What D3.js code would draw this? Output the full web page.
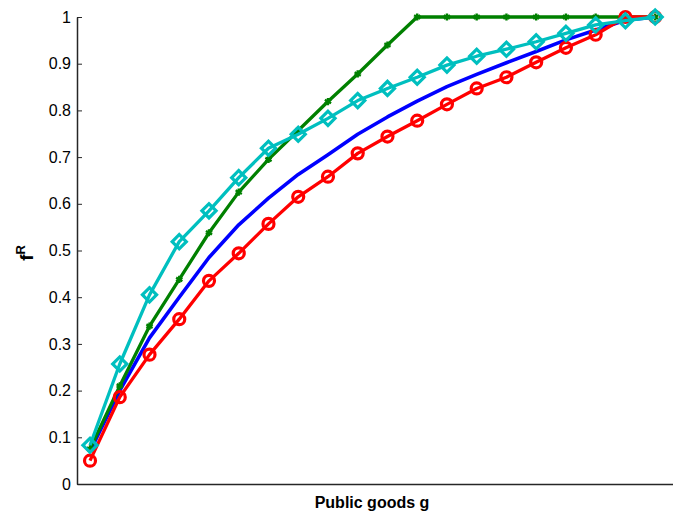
<!DOCTYPE html>
<html>
<head>
<meta charset="utf-8">
<script src="https://cdn.jsdelivr.net/npm/d3@7"></script>
<style>
  body { margin: 0; background: #fff; }
  svg { display: block; font-family: Arial, "Liberation Sans", sans-serif; }
  .axis path, .axis line { stroke: #262626; }
  .axis text { font-size: 16px; fill: #000; }
</style>
</head>
<body>
<svg id="chart" width="673" height="513"></svg>
<script>
// step index along the x axis (no tick labels shown)
var steps = d3.range(1, 21);

// series values
var blueValues = [0.07, 0.20, 0.313, 0.40, 0.485, 0.555, 0.612, 0.663, 0.705, 0.749,
                  0.786, 0.82, 0.851, 0.877, 0.902, 0.926, 0.951, 0.972, 0.993, 1.0];
var greenValues = [0.075, 0.21, 0.338, 0.438, 0.538, 0.625, 0.695, 0.757, 0.819, 0.878,
                   0.94, 1.0, 1.0, 1.0, 1.0, 1.0, 1.0, 1.0, 1.0, 1.0];
var redValues = [0.05, 0.186, 0.277, 0.353, 0.435, 0.494, 0.557, 0.615, 0.658, 0.708,
                 0.744, 0.778, 0.813, 0.847, 0.871, 0.903, 0.934, 0.962, 1.0, 1.0];
var cyanValues = [0.083, 0.257, 0.405, 0.519, 0.585, 0.656, 0.719, 0.749, 0.783, 0.821,
                  0.847, 0.871, 0.897, 0.916, 0.931, 0.947, 0.965, 0.983, 0.992, 1.0];

var yTicks = [0, 0.1, 0.2, 0.3, 0.4, 0.5, 0.6, 0.7, 0.8, 0.9, 1];

var series = [
  { name: 'blue',  values: blueValues,  color: '#0000ff', width: 3.6, marker: null },
  { name: 'green', values: greenValues, color: '#008000', width: 3.3, marker: 'star' },
  { name: 'red',   values: redValues,   color: '#ff0000', width: 3.3, marker: 'circle' },
  { name: 'cyan',  values: cyanValues,  color: '#00bfbf', width: 3.3, marker: 'diamond' }
];

var svg = d3.select('#chart');

var x = d3.scaleLinear().domain([0.5625, 20.6]).range([77, 673]);
var y = d3.scaleLinear().domain([0, 1]).range([484, 17]);

// axes: only left and bottom, ticks pointing inward
svg.append('g')
    .attr('class', 'axis')
    .attr('transform', 'translate(' + x.range()[0] + ',0)')
    .call(d3.axisLeft(y)
      .tickValues(yTicks)
      .tickFormat(d3.format('~g'))
      .tickSizeInner(-5)
      .tickSizeOuter(0)
      .tickPadding(6));

svg.append('g')
    .attr('class', 'axis')
    .attr('transform', 'translate(0,' + y.range()[0] + ')')
    .call(d3.axisBottom(x).tickValues([]).tickSizeOuter(0));

svg.selectAll('.axis path').attr('stroke-width', 1.5);

var line = d3.line()
    .x(function(d) { return x(d[0]); })
    .y(function(d) { return y(d[1]); });

series.forEach(function(s) {
  var pts = steps.map(function(st, i) { return [st, s.values[i]]; });
  var g = svg.append('g').attr('class', 'series-' + s.name);

  g.append('path')
      .datum(pts)
      .attr('d', line)
      .attr('fill', 'none')
      .attr('stroke', s.color)
      .attr('stroke-width', s.width)
      .attr('stroke-linejoin', 'round');

  if (!s.marker) { return; }

  var sym;
  if (s.marker === 'circle') {
    sym = d3.symbol().type(d3.symbolCircle).size(Math.PI * 5.5 * 5.5);
  } else if (s.marker === 'diamond') {
    sym = d3.symbol().type(d3.symbolSquare).size(100);
  } else {
    sym = d3.symbol().type(d3.symbolAsterisk).size(36);
  }

  g.selectAll('path.marker')
      .data(pts)
    .enter().append('path')
      .attr('class', 'marker')
      .attr('d', sym)
      .attr('transform', function(d) {
        var t = 'translate(' + x(d[0]) + ',' + y(d[1]) + ')';
        return s.marker === 'diamond' ? t + ' rotate(45)' : t;
      })
      .attr('fill', 'none')
      .attr('stroke', s.color)
      .attr('stroke-width', s.marker === 'star' ? 2.4 : 3.2);
});

// axis labels
svg.append('text')
    .attr('x', 372)
    .attr('y', 508)
    .attr('text-anchor', 'middle')
    .attr('font-size', 16)
    .attr('font-weight', 'bold')
    .text('Public goods g');

var yl = svg.append('text')
    .attr('transform', 'translate(33,253) rotate(-90)')
    .attr('text-anchor', 'middle')
    .attr('font-size', 19)
    .attr('font-weight', 'bold');
yl.append('tspan').text('f');
yl.append('tspan').attr('dy', -8).attr('font-size', 13).text('R');
</script>
</body>
</html>
